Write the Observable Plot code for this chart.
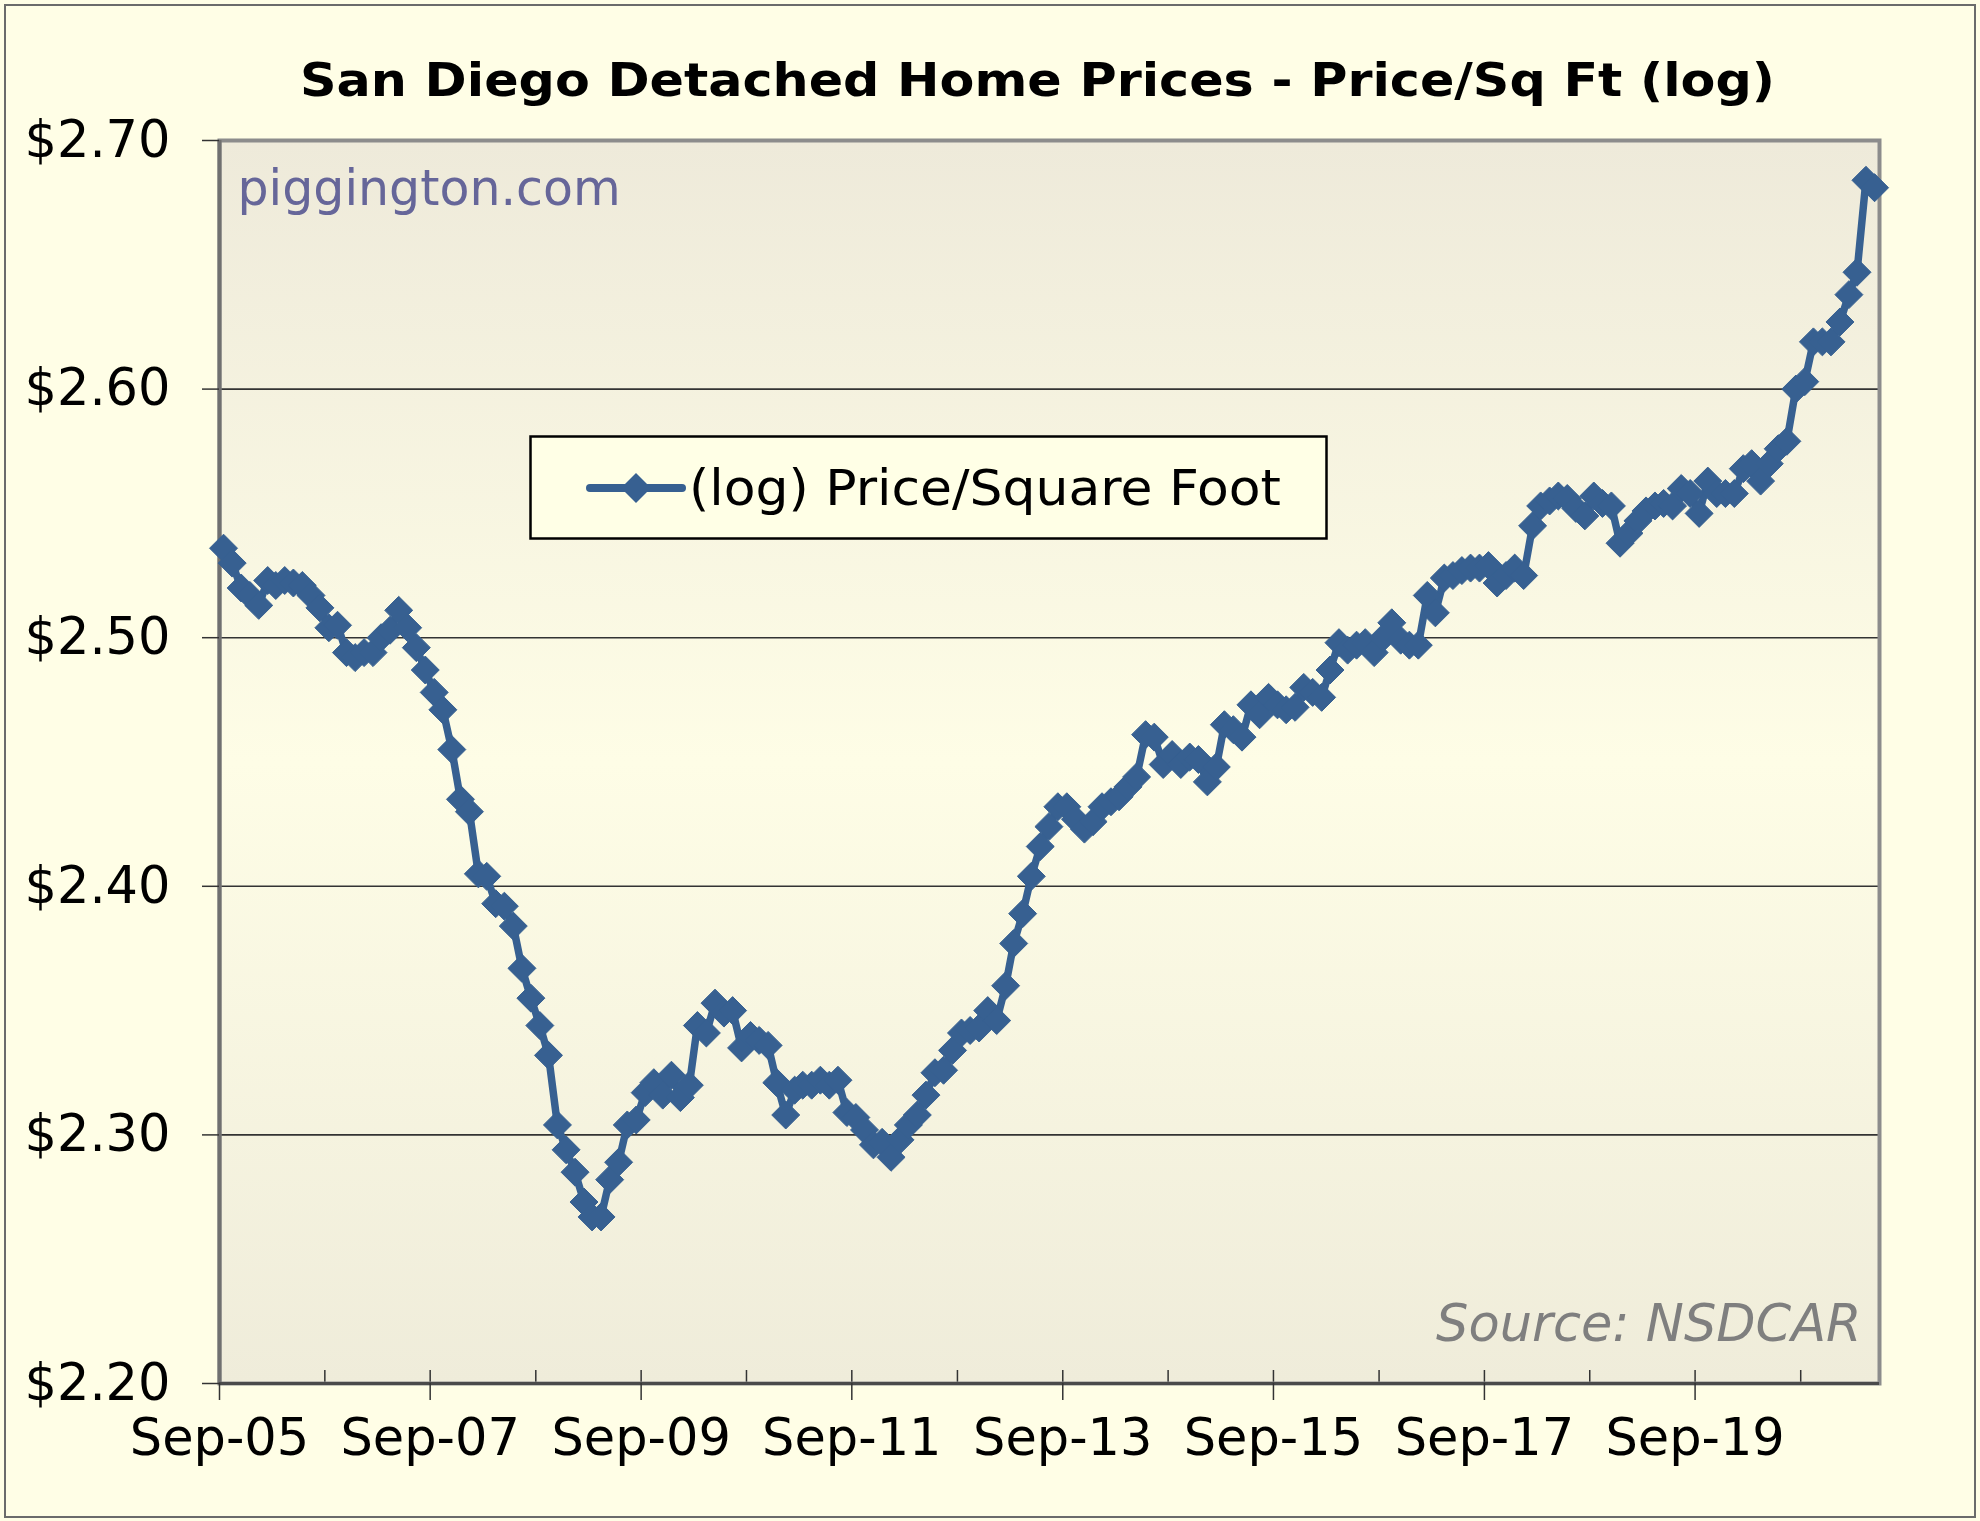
<!DOCTYPE html>
<html>
<head>
<meta charset="utf-8">
<script src="https://cdn.jsdelivr.net/npm/d3@7"></script>
<script src="https://cdn.jsdelivr.net/npm/@observablehq/plot@0.6"></script>
<style>
  html, body { margin: 0; padding: 0; background: #fffee6; }
  #wrap { position: relative; width: 1980px; height: 1521px; overflow: hidden; background: #fffee6; font-family: "DejaVu Sans", Verdana, sans-serif; }
  #border { position: absolute; left: 4px; top: 4px; width: 1972px; height: 1514px; border: 2px solid #6b6b6b; box-sizing: border-box; pointer-events: none; }
  #chart { position: absolute; left: 0; top: 0; }
  #legend { position: absolute; left: 529px; top: 435px; }
</style>
</head>
<body>
<div id="wrap">
  <div id="chart"></div>
  <svg id="legend" width="800" height="106"></svg>
  <div id="border"></div>
</div>
<script>
// ---- data ----
const titleText = "San Diego Detached Home Prices - Price/Sq Ft (log)";
const seriesName = "(log) Price/Square Foot";
const watermark = "piggington.com";
const sourceText = "Source: NSDCAR";
const startMonth = "2005-09-01";          // first monthly observation
const endOfAxis = "2021-06-01";           // right end of the date axis
// monthly log10(price per sq ft), Sep-05 .. May-21
const logPrice = [
  2.536,2.530,2.520,2.517,2.513,2.523,2.521,2.523,2.522,2.521,2.517,2.512,
  2.504,2.505,2.494,2.492,2.494,2.494,2.500,2.503,2.511,2.504,2.496,2.487,
  2.478,2.471,2.455,2.435,2.430,2.405,2.404,2.393,2.392,2.384,2.367,2.355,
  2.344,2.332,2.304,2.294,2.285,2.273,2.267,2.267,2.282,2.289,2.304,2.306,
  2.317,2.321,2.316,2.324,2.315,2.320,2.344,2.341,2.353,2.349,2.350,2.335,
  2.340,2.338,2.336,2.321,2.308,2.318,2.320,2.320,2.322,2.320,2.322,2.309,
  2.307,2.302,2.296,2.297,2.291,2.298,2.304,2.308,2.316,2.325,2.326,2.334,
  2.341,2.342,2.343,2.350,2.346,2.360,2.377,2.389,2.404,2.416,2.424,2.432,
  2.432,2.427,2.423,2.426,2.432,2.434,2.436,2.440,2.444,2.461,2.460,2.449,
  2.453,2.449,2.452,2.451,2.442,2.448,2.465,2.463,2.460,2.473,2.469,2.476,
  2.473,2.471,2.472,2.480,2.478,2.476,2.487,2.498,2.495,2.497,2.498,2.494,
  2.500,2.506,2.499,2.497,2.497,2.517,2.510,2.524,2.525,2.527,2.528,2.528,
  2.529,2.522,2.525,2.528,2.525,2.545,2.553,2.555,2.557,2.556,2.552,2.549,
  2.557,2.554,2.553,2.538,2.542,2.547,2.551,2.553,2.554,2.553,2.560,2.558,
  2.550,2.563,2.558,2.558,2.558,2.568,2.570,2.563,2.570,2.576,2.579,2.600,
  2.603,2.619,2.619,2.619,2.627,2.638,2.647,2.684,2.681
];
const yTicks = [2.2, 2.3, 2.4, 2.5, 2.6, 2.7];
const yGrid = [2.3, 2.4, 2.5, 2.6];
const yMin = 2.2, yMax = 2.7;
const labelYears = [2005, 2007, 2009, 2011, 2013, 2015, 2017, 2019];
const tickYears = [2005, 2006, 2007, 2008, 2009, 2010, 2011, 2012, 2013, 2014, 2015, 2016, 2017, 2018, 2019, 2020];

// ---- styles ----
const lineColor = "#376091";
const W = 1980, H = 1521;
const mL = 219, mR = 101, mT = 140, mB = 138;
const innerH = H - mT - mB;

const start = new Date(startMonth + "T00:00:00Z");
const data = logPrice.map((v, i) => ({
  date: d3.utcDay.offset(d3.utcMonth.offset(start, i), 14),
  value: v
}));
const septOf = y => new Date(Date.UTC(y, 8, 1));
const labelDates = labelYears.map(septOf);
const tickDates = tickYears.map(septOf);

const chart = Plot.plot({
  width: W,
  height: H,
  marginLeft: mL,
  marginRight: mR,
  marginTop: mT,
  marginBottom: mB,
  style: { background: "transparent", fontFamily: "DejaVu Sans, Verdana, sans-serif", overflow: "visible" },
  x: { type: "utc", domain: [start, new Date(endOfAxis + "T00:00:00Z")], axis: null },
  y: { domain: [yMin, yMax], axis: null },
  marks: [
    Plot.frame({ fill: "url(#plotBg)" }),
    Plot.ruleY(yGrid, { stroke: "#333333", strokeWidth: 1.6 }),
    Plot.ruleX(tickDates, { x: d => d, insetTop: innerH - 13, stroke: "#333", strokeWidth: 1.5 }),
    Plot.frame({ stroke: "#8c8c8c", strokeWidth: 4 }),
    Plot.ruleX([start], { stroke: "#707070", strokeWidth: 4 }),
    Plot.ruleY([yMin], { stroke: "#4a4a4a", strokeWidth: 3 }),
    Plot.text([watermark], { text: d => d, frameAnchor: "top-left", dx: 18, dy: 64, lineAnchor: "bottom", textAnchor: "start", fontSize: 49, fill: "#666699" }),
    Plot.text([sourceText], { text: d => d, frameAnchor: "bottom-right", dx: -18, dy: -43, lineAnchor: "bottom", textAnchor: "end", fontSize: 51, fontStyle: "italic", fill: "#7f7f7f" }),
    Plot.line(data, { x: "date", y: "value", stroke: lineColor, strokeWidth: 7.5, strokeLinejoin: "round" }),
    Plot.dot(data, { x: "date", y: "value", symbol: "diamond2", r: 12.6, fill: lineColor, stroke: lineColor, strokeWidth: 1 }),
    Plot.axisY({ ticks: yTicks, tickFormat: d => "$" + d.toFixed(2), tickSize: 17, tickPadding: 32, fontSize: 51, color: "#000", stroke: "#333", strokeWidth: 1.5, label: null }),
    Plot.axisX({ ticks: labelDates, tickFormat: d3.utcFormat("%b-%y"), tickSize: 17, tickPadding: 18, fontSize: 51, color: "#000", stroke: "#333", strokeWidth: 1.5, label: null }),
    Plot.text([titleText], { text: d => d, frameAnchor: "top", dx: -12, dy: -45, lineAnchor: "bottom", textAnchor: "middle", fontSize: 46, fontWeight: "bold", fill: "#000" })
  ]
});

document.getElementById("chart").appendChild(chart);

// gradient for the plot-area background
const svgSel = d3.select(chart);
const defs = svgSel.insert("defs", ":first-child");
const grad = defs.append("linearGradient").attr("id", "plotBg").attr("x1", 0).attr("y1", 0).attr("x2", 0).attr("y2", 1);
grad.append("stop").attr("offset", "0%").attr("stop-color", "#eeeada");
grad.append("stop").attr("offset", "50%").attr("stop-color", "#fefde6");
grad.append("stop").attr("offset", "100%").attr("stop-color", "#efecda");

// stretch the title to the reference width
svgSel.selectAll("text").filter(function () { return this.textContent === titleText; })
  .attr("textLength", 1475).attr("lengthAdjust", "spacingAndGlyphs");

// ---- legend ----
const lg = d3.select("#legend");
lg.append("rect").attr("x", 1.5).attr("y", 1.5).attr("width", 796).attr("height", 102)
  .attr("fill", "#ffffe6").attr("stroke", "#000").attr("stroke-width", 2.5);
lg.append("line").attr("x1", 61).attr("x2", 153).attr("y1", 53).attr("y2", 53)
  .attr("stroke", lineColor).attr("stroke-width", 8).attr("stroke-linecap", "round");
lg.append("path").attr("d", "M107,38L122,53L107,68L92,53Z").attr("fill", lineColor);
lg.append("text").attr("x", 160).attr("y", 70).attr("font-size", 49)
  .attr("font-family", "DejaVu Sans, Verdana, sans-serif").attr("fill", "#000")
  .attr("textLength", 592).attr("lengthAdjust", "spacingAndGlyphs")
  .text(seriesName);
</script>
</body>
</html>
